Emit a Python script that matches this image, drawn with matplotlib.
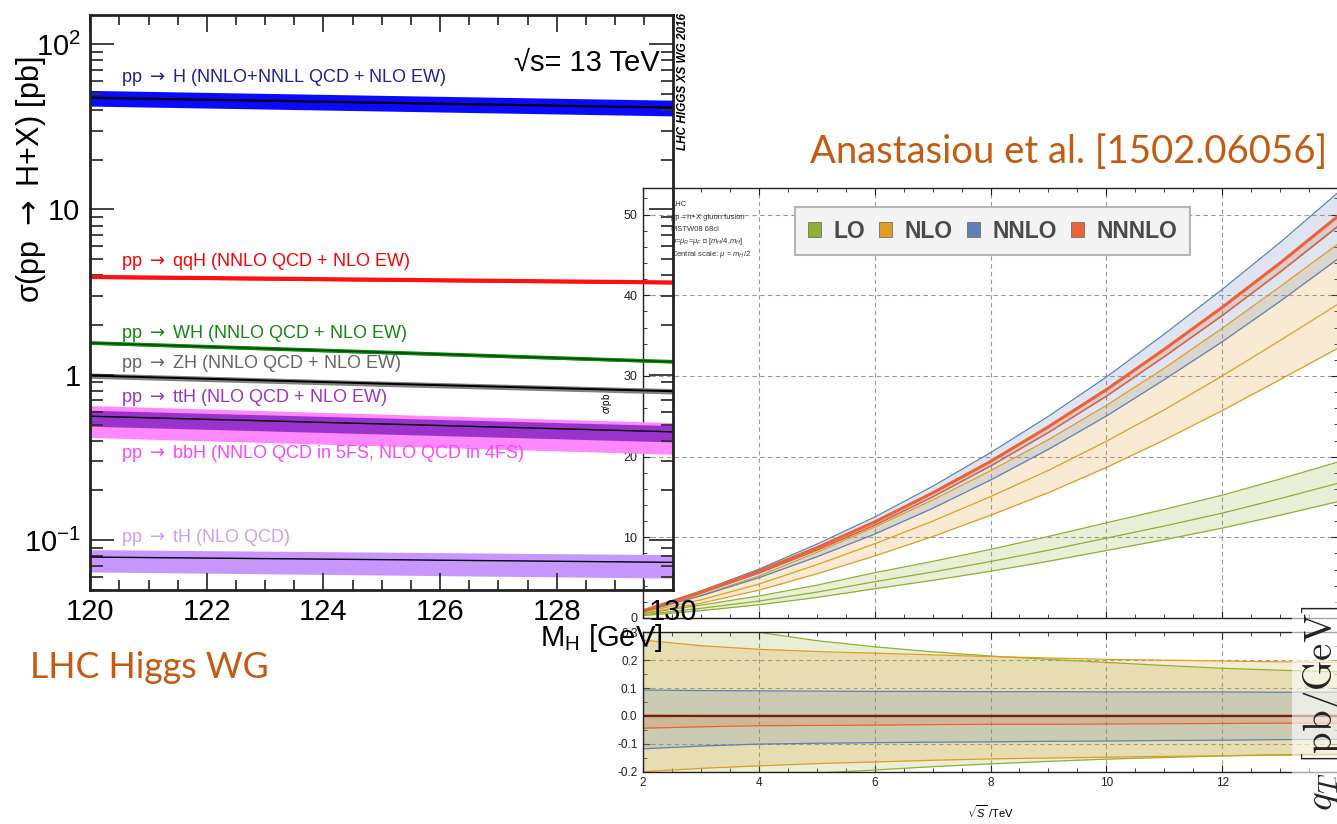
import numpy as np
import matplotlib.pyplot as plt
from matplotlib.ticker import MultipleLocator, FixedLocator, FixedFormatter, LogLocator, NullFormatter
from matplotlib.patches import Patch

plt.rcParams['font.family'] = ['Liberation Sans', 'DejaVu Sans']
plt.rcParams['axes.unicode_minus'] = False
plt.rcParams['mathtext.fontset'] = 'custom'
plt.rcParams['mathtext.rm'] = 'Liberation Sans'
plt.rcParams['mathtext.it'] = 'Liberation Sans:italic'
plt.rcParams['mathtext.bf'] = 'Liberation Sans:bold'

# ---- left panel: LHC Higgs XS WG, sigma(pp -> H+X) vs M_H at 13 TeV ----
m_h = [120, 125, 130]

ggh = [47.4, 44.2, 41.3]
ggh_hi = [52.5, 49.0, 45.8]
ggh_lo = [42.2, 39.4, 36.8]

qqh = [3.91, 3.76, 3.62]
qqh_hi = [3.99, 3.84, 3.69]
qqh_lo = [3.83, 3.69, 3.55]

wh = [1.56, 1.37, 1.20]
wh_hi = [1.59, 1.40, 1.22]
wh_lo = [1.53, 1.34, 1.18]

zh = [0.99, 0.885, 0.796]
zh_hi = [1.027, 0.918, 0.826]
zh_lo = [0.953, 0.852, 0.766]

tth = [0.562, 0.505, 0.452]
tth_hi = [0.611, 0.549, 0.493]
tth_lo = [0.489, 0.439, 0.393]

bbh = [0.55, 0.488, 0.43]
bbh_hi = [0.652, 0.579, 0.514]
bbh_lo = [0.418, 0.372, 0.331]

th = [0.0791, 0.0763, 0.0735]
th_hi = [0.0877, 0.0847, 0.0818]
th_lo = [0.0643, 0.0616, 0.0590]

# ---- right panel: Anastasiou et al., ggF sigma vs sqrt(S) ----
sqrt_s = [2, 3, 4, 5, 6, 7, 8, 9, 10, 11, 12, 13, 14]
orders = ['LO', 'NLO', 'NNLO', 'NNNLO']

lo_c = [0.4, 1.2, 2.1, 3.2, 4.5, 5.7, 7.0, 8.4, 9.9, 11.4, 13.0, 14.8, 16.7]
nlo_c = [0.7, 2.25, 4.2, 6.6, 9.2, 12.0, 15.05, 18.3, 21.9, 25.8, 30.0, 34.4, 38.9]
nnlo_c = [0.86, 3.08, 5.55, 8.4, 11.5, 15.0, 18.85, 23.0, 27.5, 32.4, 37.5, 42.9, 48.6]
n3lo_c = [0.9, 3.2, 5.8, 8.7, 11.9, 15.5, 19.4, 23.7, 28.3, 33.3, 38.5, 44.0, 49.8]

# relative scale variation (ratio panel)
lo_up = [0.36, 0.33, 0.30, 0.27, 0.248, 0.23, 0.215, 0.203, 0.192, 0.181, 0.171, 0.164, 0.158]
lo_dn = [-0.26, -0.24, -0.22, -0.205, -0.194, -0.182, -0.172, -0.163, -0.155, -0.149, -0.143, -0.139, -0.136]
nlo_up = [0.272, 0.252, 0.239, 0.231, 0.225, 0.219, 0.213, 0.208, 0.203, 0.200, 0.197, 0.194, 0.192]
nlo_dn = [-0.20, -0.188, -0.179, -0.171, -0.165, -0.159, -0.154, -0.151, -0.148, -0.145, -0.143, -0.141, -0.140]
nnlo_up = [0.093, 0.091, 0.090, 0.089, 0.088, 0.088, 0.087, 0.087, 0.086, 0.086, 0.086, 0.085, 0.085]
nnlo_dn = [-0.118, -0.108, -0.101, -0.098, -0.096, -0.094, -0.093, -0.091, -0.090, -0.088, -0.087, -0.085, -0.084]
n3lo_up = [0.003, 0.002, 0.002, 0.002, 0.002, 0.002, 0.002, 0.002, 0.002, 0.002, 0.002, 0.002, 0.002]
n3lo_dn = [-0.044, -0.039, -0.035, -0.034, -0.033, -0.031, -0.030, -0.030, -0.029, -0.028, -0.027, -0.026, -0.026]

W, H = 1337, 824
fig = plt.figure(figsize=(W / 100, H / 100), dpi=100)

def fx(px):
    return px / W

def fy(py):
    return 1 - py / H

# right plot (drawn underneath)
ax_r = fig.add_axes([fx(643), fy(618), fx(1338 - 643), (618 - 188) / H])
ax_q = fig.add_axes([fx(643), fy(771.7), fx(1338 - 643), (771.7 - 632.3) / H])

cols = ['#8FB032', '#E19C24', '#5E81B5', '#EB6235']
cent = [lo_c, nlo_c, nnlo_c, n3lo_c]
ups = [lo_up, nlo_up, nnlo_up, n3lo_up]
dns = [lo_dn, nlo_dn, nnlo_dn, n3lo_dn]

x = np.array(sqrt_s)
for c, col, up, dn in zip(cent, cols, ups, dns):
    c = np.array(c)
    hi = c * (1 + np.array(up))
    lo = c * (1 + np.array(dn))
    ax_r.fill_between(x, lo, hi, color=col, alpha=0.2, lw=0)
    ax_r.plot(x, hi, color=col, lw=0.9)
    ax_r.plot(x, lo, color=col, lw=0.9)
    ax_r.plot(x, c, color=col, lw=2.2 if col == '#EB6235' else 0.9)

    ax_q.fill_between(x, dn, up, color=col, alpha=0.2, lw=0)
    ax_q.plot(x, up, color=col, lw=0.9)
    ax_q.plot(x, dn, color=col, lw=0.9)
ax_q.plot(x, np.zeros_like(x), color='#6a2414', lw=1.6)

for a in (ax_r, ax_q):
    a.set_xlim(2, 14)
    a.xaxis.set_major_locator(MultipleLocator(2))
    a.xaxis.set_minor_locator(MultipleLocator(0.5))
    a.grid(True, which='major', ls=(0, (4, 3)), color='#9a9a9a', lw=0.8)
    a.set_axisbelow(True)
    a.tick_params(which='both', direction='in', top=True, right=True,
                  labelsize=9, colors='#222222', pad=4)
    a.tick_params(which='major', length=5, width=0.8)
    a.tick_params(which='minor', length=3, width=0.6)
    for s in a.spines.values():
        s.set_color('#222222')
        s.set_linewidth(1.0)

ax_r.set_ylim(0, 53.3)
ax_r.yaxis.set_major_locator(MultipleLocator(10))
ax_r.yaxis.set_minor_locator(MultipleLocator(2))
ax_r.tick_params(labelbottom=False)
ax_r.set_ylabel(r'$\sigma$/pb', fontsize=7)
ax_r.yaxis.set_label_coords(-0.042, 0.5)

ax_q.set_ylim(-0.2, 0.3)
ax_q.yaxis.set_major_locator(MultipleLocator(0.1))
ax_q.yaxis.set_minor_locator(MultipleLocator(0.05))
ax_q.yaxis.set_major_formatter(lambda v, p: '%.1f' % v)
ax_q.tick_params(labelsize=8.5)
ax_q.set_xlabel(r'$\sqrt{S}$ /TeV', fontsize=8, labelpad=10)

handles = [Patch(facecolor=c, edgecolor='#6f6f6f', lw=0.6) for c in cols]
leg = ax_r.legend(handles, orders, ncol=4, loc='upper left',
                  bbox_to_anchor=(fx(795), fy(207)), bbox_transform=fig.transFigure,
                  frameon=True, fancybox=False, facecolor='#f3f3f3', edgecolor='#b5b5b5',
                  framealpha=1, prop={'weight': 'bold', 'size': 16.5},
                  handlelength=0.58, handleheight=0.58, handletextpad=0.55,
                  columnspacing=0.6, borderpad=0.55, borderaxespad=0)
for t in leg.get_texts():
    t.set_color('#4a4a4a')
leg.get_frame().set_linewidth(1.5)

info = ['LHC', 'pp→h+X gluon fusion', 'MSTW08 68cl',
        r'$\mu$=$\mu_R$=$\mu_F$ ∈ [$m_H$/4,$m_H$]', r'Central scale: $\mu$ = $m_H$/2']
for i, s in enumerate(info):
    ax_r.text(fx(671), fy(205 + 12.3 * i), s, transform=fig.transFigure,
              fontsize=5.5, color='#333333', va='center', ha='left')

# left plot (on top, transparent)
ax_l = fig.add_axes([fx(90.2), fy(590), fx(583.1), 575 / H])
ax_l.set_zorder(5)
ax_l.patch.set_visible(False)

def band(lo, hi, c, fill_col, lw_c=1.2, ccol='black'):
    ax_l.fill_between(m_h, lo, hi, color=fill_col, lw=0)
    if ccol is not None:
        ax_l.plot(m_h, c, color=ccol, lw=lw_c)

band(ggh_lo, ggh_hi, ggh, '#0a0aff', 1.6)
ax_l.fill_between(m_h, qqh_lo, qqh_hi, color='#ff0000', lw=0)
ax_l.plot(m_h, qqh, color='#ff1010', lw=3)
ax_l.fill_between(m_h, wh_lo, wh_hi, color='#0a8a0a', lw=0)
ax_l.plot(m_h, wh, color='#0a8a0a', lw=2.6)
ax_l.plot(m_h, wh, color='#003300', lw=0.8)
band(zh_lo, zh_hi, zh, '#808080', 1.4)
band(bbh_lo, bbh_hi, bbh, '#ff88ff', ccol=None)
band(tth_lo, tth_hi, tth, '#9933cc', 1.0)
band(th_lo, th_hi, th, '#c896ff', 1.0)

ax_l.set_yscale('log')
ax_l.set_ylim(0.05, 150)
ax_l.set_xlim(120, 130)
ax_l.xaxis.set_major_locator(MultipleLocator(2))
ax_l.xaxis.set_minor_locator(MultipleLocator(0.5))
ax_l.yaxis.set_major_locator(FixedLocator([0.1, 1, 10, 100]))
ax_l.yaxis.set_major_formatter(FixedFormatter([r'$10^{-1}$', '1', '10', r'$10^{2}$']))
ax_l.yaxis.set_minor_locator(LogLocator(base=10, subs=np.arange(2, 10)))
ax_l.yaxis.set_minor_formatter(NullFormatter())
ax_l.tick_params(which='both', direction='in', top=True, right=True, width=1.3,
                 labelsize=21, color='#333333')
ax_l.tick_params(axis='y', which='major', length=17, pad=7)
ax_l.tick_params(axis='y', which='minor', length=9)
ax_l.tick_params(axis='x', which='major', length=12, pad=6)
ax_l.tick_params(axis='x', which='minor', length=7)
for s in ax_l.spines.values():
    s.set_linewidth(2)
    s.set_color('#222222')

arr = r'$\;{\rightarrow}\;$'
labels = [
    ('pp' + arr + 'H (NNLO+NNLL QCD + NLO EW)', '#20209a', 78),
    ('pp' + arr + 'qqH (NNLO QCD + NLO EW)', '#ff0000', 262),
    ('pp' + arr + 'WH (NNLO QCD + NLO EW)', '#118811', 333),
    ('pp' + arr + 'ZH (NNLO QCD + NLO EW)', '#666666', 364),
    ('pp' + arr + 'ttH (NLO QCD + NLO EW)', '#9933cc', 398),
    ('pp' + arr + 'bbH (NNLO QCD in 5FS, NLO QCD in 4FS)', '#ff44ff', 454),
    ('pp' + arr + 'tH (NLO QCD)', '#c8a0ff', 537),
]
for s, col, py in labels:
    ax_l.text(fx(121), fy(py), s, color=col, fontsize=13, va='center', ha='left',
              math_fontfamily='dejavusans', transform=fig.transFigure)

ax_l.text(fx(660), fy(63), '√s= 13 TeV', fontsize=21, ha='right', va='center',
          transform=fig.transFigure)

fig.text(fx(683), fy(82), 'LHC HIGGS XS WG 2016', rotation=90, fontsize=8.5,
         weight='bold', style='italic', ha='center', va='center')
fig.text(fx(31), fy(180), 'σ(pp' + arr + 'H+X) [pb]', rotation=90, fontsize=22,
         math_fontfamily='dejavusans', ha='center', va='center')
fig.text(fx(663), fy(638), r'M$_{\mathrm{H}}$ [GeV]', fontsize=21, ha='right', va='center')

fig.text(fx(30), fy(668), 'LHC Higgs WG', color='#C55A11', fontsize=25.7,
         family=['Lato', 'DejaVu Sans'], ha='left', va='center')
fig.text(fx(1327), fy(152), 'Anastasiou et al. [1502.06056]', color='#C55A11', fontsize=27.5,
         family=['Lato', 'DejaVu Sans'], ha='right', va='center')

fig.text(fx(1322), fy(605), r'$q_T\ [\mathrm{pb}/\mathrm{GeV}]$', rotation=90, fontsize=28,
         math_fontfamily='cm', ha='center', va='top', color='#222222',
         bbox=dict(facecolor='white', alpha=0.6, edgecolor='none', pad=6))

fig.savefig('out.png', dpi=100)
